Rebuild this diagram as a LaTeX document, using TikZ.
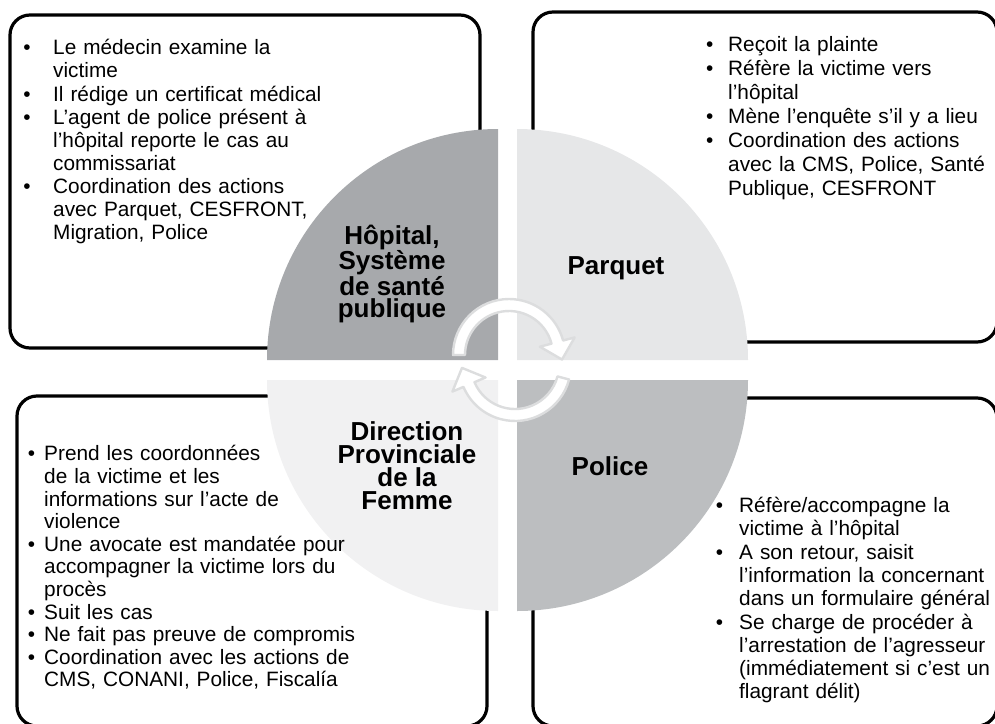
\documentclass[tikz,border=0pt]{standalone}
\usepackage{fontspec}
\setmainfont{Liberation Sans}
\usepackage{enumitem}
\usepackage{tikz}

\definecolor{qHop}{HTML}{A7A9AC}
\definecolor{qPar}{HTML}{E6E7E8}
\definecolor{qDir}{HTML}{F1F1F2}
\definecolor{qPol}{HTML}{BCBEC0}
\definecolor{anneau}{HTML}{DCDDDE}

\newcommand{\puces}[2]{\begin{itemize}[label=\textbullet,leftmargin=40pt,labelsep=#1,itemsep=0pt,parsep=0pt,topsep=0pt,partopsep=0pt]#2\end{itemize}}

\begin{document}
\begin{tikzpicture}[x=1pt, y=-1pt, inner sep=0pt]

    \tikzstyle{cadre}=[draw=black, line width=3.2pt, rounded corners=20pt] \tikzstyle{titre}=[align=center, font=\fontsize{26}{22.8}\selectfont\bfseries]
    \tikzstyle{liste}=[anchor=north west, text width=400pt, align=left] \tikzstyle{fleche}=[fill=white, draw=anneau, line width=2.4pt, line join=round]

    \useasboundingbox (0,0) rectangle (995,723);

    % cadres
    \draw[cadre] (10,15) rectangle (480,348);
    \draw[cadre] (533,12) rectangle (997,342);
    \draw[cadre] (17,396) rectangle (487,726);
    \draw[cadre] (533,398) rectangle (997,726);

    % quadrants
    \coordinate (cH) at (498,360); \coordinate (cP) at (517,360); \coordinate (cD) at (498,380); \coordinate (cPo) at (517,380);
    \fill[qHop] (cH) -- ([shift={(180:231)}]cH) arc[start angle=180, end angle=270, radius=231] -- cycle;
    \fill[qPar] (cP) -- ([shift={(270:231)}]cP) arc[start angle=270, end angle=360, radius=231] -- cycle;
    \fill[qPol] (cPo) -- ([shift={(0:231)}]cPo) arc[start angle=0, end angle=90, radius=231] -- cycle;
    \fill[qDir] (cD) -- ([shift={(90:231)}]cD) arc[start angle=90, end angle=180, radius=231] -- cycle;

    % textes
    \node[liste, font=\fontsize{20.8}{23.1}\selectfont] (tH) at (13,31.5) {\puces{22.5pt}{
      \item\strut Le médecin examine la\\ victime
      \item Il rédige un certificat médical
      \item L’agent de police présent à\\ l’hôpital reporte le cas au\\ commissariat
      \item Coordination des actions\\ avec Parquet, CESFRONT,\\ Migration, Police}};
    \node[liste, font=\fontsize{20.8}{24}\selectfont] (tP) at (688,27.5) {\puces{14.8pt}{
      \item\strut Reçoit la plainte
      \item Réfère la victime vers\\ l’hôpital
      \item Mène l’enquête s’il y a lieu
      \item Coordination des actions\\ avec la CMS, Police, Santé\\ Publique, CESFRONT}};
    \node[liste, font=\fontsize{20.8}{22.6}\selectfont] (tD) at (4,438) {\puces{9pt}{
      \item\strut Prend les coordonnées\\ de la victime et les\\ informations sur l’acte de\\ violence
      \item Une avocate est mandatée pour\\ accompagner la victime lors du\\ procès
      \item Suit les cas
      \item Ne fait pas preuve de compromis
      \item Coordination avec les actions de\\ CMS, CONANI, Police, Fiscalía}};
    \node[liste, font=\fontsize{20.8}{23.3}\selectfont] (tPo) at (699,489) {\puces{16.1pt}{
      \item\strut Réfère/accompagne la\\ victime à l’hôpital
      \item A son retour, saisit\\ l’information la concernant\\ dans un formulaire général
      \item Se charge de procéder à\\ l’arrestation de l’agresseur\\ (immédiatement si c’est un\\ flagrant délit)}};

    % titres
    \node[titre] (H) at (392,274) {Hôpital,\\ Système\\ de santé\\ publique};
    \node[titre] (P) at (616,268.5) {Parquet};
    \node[titre] (D) at (407,465.5) {Direction\\ Provinciale\\ de la\\ Femme};
    \node[titre] (Po) at (610,465.7) {Police};

    % fleches circulaires
    \coordinate (T) at (509,355); \coordinate (B) at (515,365);
    \draw[fleche] ([shift={(180:56)}]T) arc[start angle=180, end angle=345, radius=56] -- ([shift={(345:68)}]T) -- ([shift={(4.9:53.2)}]T) -- ([shift={(345:32)}]T) -- ([shift={(345:44)}]T) arc[start angle=345, end angle=180, radius=44] -- cycle;
    \draw[fleche] ([shift={(15:56)}]B) arc[start angle=15, end angle=157, radius=56] -- ([shift={(157:68)}]B) -- ([shift={(176.9:53.1)}]B) -- ([shift={(157:32)}]B) -- ([shift={(157:44)}]B) arc[start angle=157, end angle=15, radius=44] -- cycle;
  \end{tikzpicture}
\end{document}
